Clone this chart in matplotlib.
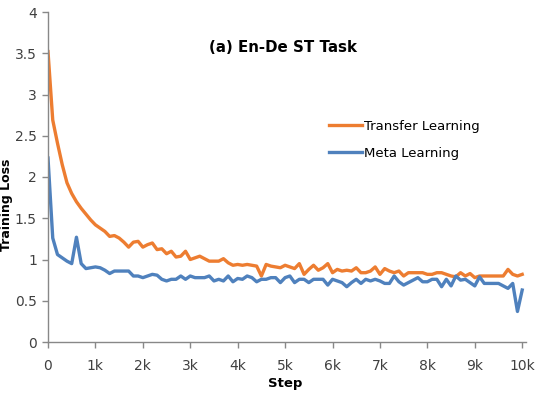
import numpy as np
import matplotlib
matplotlib.use('Agg')
import matplotlib.pyplot as plt

# training steps, one point every 100 steps
steps = np.arange(0, 10001, 100)

transfer_loss = [3.52, 2.69, 2.41, 2.15, 1.93, 1.80, 1.70, 1.62, 1.55, 1.48,
                 1.42, 1.38, 1.34, 1.28, 1.29, 1.26, 1.21, 1.15, 1.21, 1.22,
                 1.15, 1.18, 1.20, 1.12, 1.13, 1.07, 1.10, 1.03, 1.04, 1.10,
                 1.00, 1.02, 1.04, 1.01, 0.98, 0.98, 0.98, 1.01, 0.96, 0.93,
                 0.94, 0.93, 0.94, 0.93, 0.92, 0.80, 0.94, 0.92, 0.91, 0.90,
                 0.93, 0.91, 0.89, 0.95, 0.82, 0.88, 0.93, 0.87, 0.90, 0.95,
                 0.84, 0.88, 0.86, 0.87, 0.86, 0.90, 0.84, 0.84, 0.86, 0.91,
                 0.82, 0.89, 0.86, 0.84, 0.86, 0.80, 0.84, 0.84, 0.84, 0.84,
                 0.82, 0.82, 0.84, 0.84, 0.82, 0.80, 0.79, 0.84, 0.80, 0.83,
                 0.78, 0.80, 0.80, 0.80, 0.80, 0.80, 0.80, 0.88, 0.82, 0.80,
                 0.82]

meta_loss = [2.23, 1.26, 1.06, 1.02, 0.98, 0.95, 1.27, 0.95, 0.89, 0.90,
             0.91, 0.90, 0.87, 0.83, 0.86, 0.86, 0.86, 0.86, 0.80, 0.80,
             0.78, 0.80, 0.82, 0.81, 0.76, 0.74, 0.76, 0.76, 0.80, 0.76,
             0.80, 0.78, 0.78, 0.78, 0.80, 0.74, 0.76, 0.74, 0.80, 0.73,
             0.77, 0.76, 0.80, 0.78, 0.73, 0.76, 0.76, 0.78, 0.78, 0.72,
             0.78, 0.80, 0.72, 0.76, 0.76, 0.72, 0.76, 0.76, 0.76, 0.69,
             0.76, 0.74, 0.72, 0.67, 0.72, 0.76, 0.71, 0.76, 0.74, 0.76,
             0.74, 0.71, 0.71, 0.80, 0.73, 0.69, 0.72, 0.75, 0.78, 0.73,
             0.73, 0.76, 0.76, 0.67, 0.76, 0.68, 0.80, 0.75, 0.76, 0.72,
             0.68, 0.79, 0.71, 0.71, 0.71, 0.71, 0.68, 0.65, 0.71, 0.37,
             0.63]

x_ticks = [0, 1000, 2000, 3000, 4000, 5000, 6000, 7000, 8000, 9000, 10000]
x_tick_labels = ['0', '1k', '2k', '3k', '4k', '5k', '6k', '7k', '8k', '9k', '10k']
y_ticks = [0, 0.5, 1, 1.5, 2, 2.5, 3, 3.5, 4]
y_tick_labels = ['0', '0.5', '1', '1.5', '2', '2.5', '3', '3.5', '4']

orange = '#ED7D31'
blue = '#4F81BD'
axis_gray = '#888888'
text_gray = '#404040'

W, H = 540, 393
fig = plt.figure(figsize=(W / 100, H / 100), dpi=100)
ax = fig.add_axes([48 / W, (H - 342) / H, (526 - 48) / W, (342 - 12) / H])

ax.plot(steps, transfer_loss, color=orange, lw=2.4, label='Transfer Learning')
ax.plot(steps, meta_loss, color=blue, lw=2.4, label='Meta Learning')

ax.set_xlim(0, 10080)
ax.set_ylim(0, 4)
ax.set_xticks(x_ticks)
ax.set_xticklabels(x_tick_labels)
ax.set_yticks(y_ticks)
ax.set_yticklabels(y_tick_labels)

for s in ['top', 'right']:
    ax.spines[s].set_visible(False)
for s in ['left', 'bottom']:
    ax.spines[s].set_color(axis_gray)
    ax.spines[s].set_linewidth(1.0)
ax.tick_params(axis='both', colors=axis_gray, length=4, width=1.0,
               labelsize=10, labelcolor=text_gray)
ax.tick_params(axis='y', pad=4)
ax.tick_params(axis='x', pad=8)

fig.text(285 / W, 1 - 383 / H, 'Step', ha='center', va='center',
         fontsize=9.5, fontweight='bold', color='black')
fig.text(7 / W, 1 - 205 / H, 'Training Loss', ha='center', va='center',
         rotation=90, fontsize=9, fontweight='bold', color='black')
fig.text(283 / W, 1 - 47 / H, '(a) En-De ST Task', ha='center', va='center',
         fontsize=10.8, fontweight='bold', color='black')

fig.legend(loc='upper left', bbox_to_anchor=(322 / W, 1 - 113 / H),
           frameon=False, fontsize=9.5, handlelength=2.5, handletextpad=0.15,
           labelspacing=1.1, borderpad=0)

plt.savefig('out.png', dpi=100)
